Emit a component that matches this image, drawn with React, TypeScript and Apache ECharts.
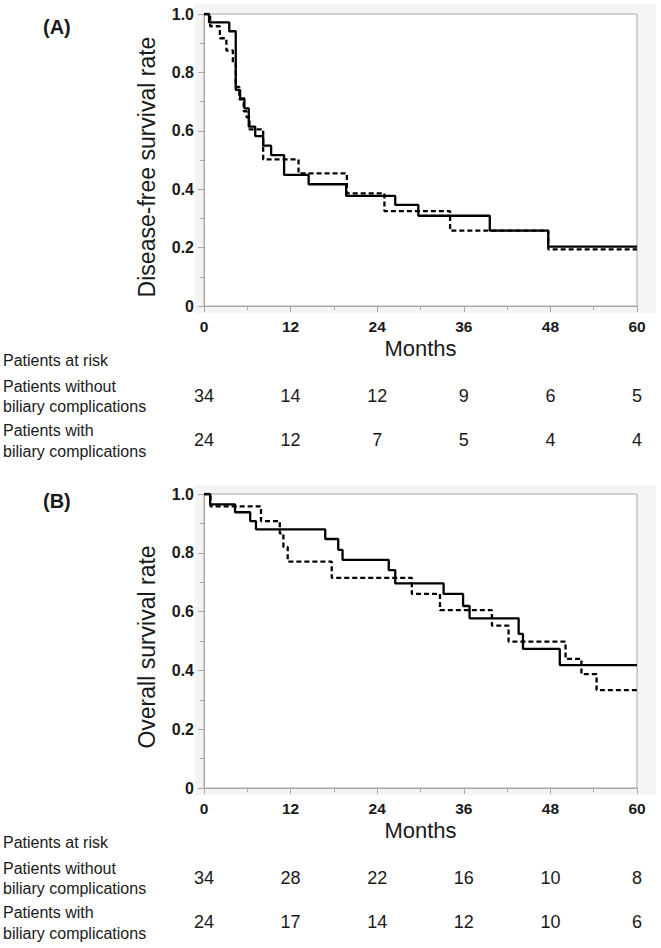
import React, { useEffect, useRef } from "react";
import * as echarts from "echarts";

// ---- Data ----
const monthTicks = [0, 12, 24, 36, 48, 60];

// Panel A: disease-free survival
const dfsWithoutT = [0, 0.7, 3.5, 4.4, 5.0, 5.6, 6.2, 7.1, 8.2, 9.3, 11.1, 14.5, 19.7, 26.5, 29.7, 39.6, 47.7, 60];
const dfsWithoutS = [1, 0.971, 0.941, 0.74, 0.711, 0.677, 0.614, 0.582, 0.549, 0.517, 0.449, 0.417, 0.377, 0.346, 0.309, 0.258, 0.203, 0.203];
const dfsWithT = [0, 0.85, 2.2, 3.1, 4.0, 4.4, 4.9, 5.5, 5.9, 6.3, 8.2, 13.1, 19.8, 25.0, 34.1, 47.7, 60];
const dfsWithS = [1, 0.958, 0.917, 0.875, 0.833, 0.75, 0.708, 0.667, 0.646, 0.605, 0.502, 0.454, 0.386, 0.325, 0.258, 0.194, 0.194];

// Panel B: overall survival
const osWithoutT = [0, 0.85, 4.3, 6.4, 7.2, 16.8, 18.6, 19.2, 25.6, 26.5, 33.2, 35.9, 36.8, 43.6, 44.2, 49.3, 60];
const osWithoutS = [1, 0.965, 0.938, 0.908, 0.88, 0.847, 0.81, 0.776, 0.741, 0.696, 0.66, 0.619, 0.577, 0.524, 0.473, 0.418, 0.418];
const osWithT = [0, 0.9, 7.9, 10.5, 11.0, 11.6, 17.7, 28.8, 32.7, 39.9, 42.2, 50.1, 52.3, 54.4, 60];
const osWithS = [1, 0.958, 0.908, 0.866, 0.82, 0.77, 0.715, 0.66, 0.605, 0.552, 0.498, 0.439, 0.387, 0.333, 0.333];

// Patients at risk
const riskAWithout = [34, 14, 12, 9, 6, 5];
const riskAWith = [24, 12, 7, 5, 4, 4];
const riskBWithout = [34, 28, 22, 16, 10, 8];
const riskBWith = [24, 17, 14, 12, 10, 6];

const FONT = "'Liberation Sans', Arial, Helvetica, sans-serif";
const AXIS_GREY = "#a8a8a8";
const TEXT = "#1a1a1a";

const zip = (t: number[], s: number[]) => t.map((v, i) => [v, s[i]]);

export default function App() {
  const ref = useRef<HTMLDivElement>(null);

  useEffect(() => {
    if (!ref.current) return;
    const chart = echarts.init(ref.current, undefined, { renderer: "svg" });

    const grids = [
      { left: 204, top: 14, width: 433, height: 292 },
      { left: 204, top: 494, width: 433, height: 294 },
    ].map((g) => ({
      ...g,
      show: true,
      backgroundColor: "#ffffff",
      borderColor: AXIS_GREY,
      borderWidth: 1,
    }));

    const mainX = (gi: number) => ({
      type: "value",
      gridIndex: gi,
      min: 0,
      max: 60,
      interval: 12,
      name: "Months",
      nameLocation: "middle",
      nameGap: 31,
      nameTextStyle: { fontFamily: FONT, fontSize: 22, color: TEXT },
      axisLine: { show: true, onZero: false, lineStyle: { color: AXIS_GREY, width: 1 } },
      axisTick: { show: true, length: 6, lineStyle: { color: AXIS_GREY } },
      minorTick: { show: true, splitNumber: 2, length: 4, lineStyle: { color: AXIS_GREY } },
      splitLine: { show: false },
      axisLabel: {
        margin: 12,
        fontFamily: FONT,
        fontSize: 15.5,
        fontWeight: "bold",
        color: TEXT,
        showMinLabel: true,
        showMaxLabel: true,
      },
    });

    const riskX = (gi: number, counts: number[], offset: number) => ({
      type: "value",
      gridIndex: gi,
      position: "bottom",
      offset,
      min: 0,
      max: 60,
      interval: 12,
      axisLine: { show: false },
      axisTick: { show: false },
      splitLine: { show: false },
      axisLabel: {
        margin: 0,
        fontFamily: FONT,
        fontSize: 18,
        color: TEXT,
        showMinLabel: true,
        showMaxLabel: true,
        hideOverlap: false,
        formatter: (v: number) => {
          const i = monthTicks.indexOf(Math.round(v));
          return i >= 0 ? String(counts[i]) : "";
        },
      },
    });

    const mainY = (gi: number) => ({
      type: "value",
      gridIndex: gi,
      min: 0,
      max: 1,
      interval: 0.2,
      axisLine: { show: true, onZero: false, lineStyle: { color: AXIS_GREY, width: 1 } },
      axisTick: { show: true, length: 6, lineStyle: { color: AXIS_GREY } },
      minorTick: { show: true, splitNumber: 2, length: 4, lineStyle: { color: AXIS_GREY } },
      splitLine: { show: false },
      axisLabel: {
        margin: 10,
        fontFamily: FONT,
        fontSize: 16,
        fontWeight: "bold",
        color: TEXT,
        formatter: (v: number) => (v === 0 ? "0" : v.toFixed(1)),
      },
    });

    const stepSeries = (xi: number, yi: number, data: number[][], dashed: boolean) => ({
      type: "line",
      xAxisIndex: xi,
      yAxisIndex: yi,
      step: "end",
      symbol: "none",
      data,
      lineStyle: { color: "#000", width: 2.3, type: dashed ? [5, 3] : "solid" },
      z: dashed ? 3 : 4,
    });

    const leftText = (text: string, y: number, extra: any = {}) => ({
      type: "text",
      x: 3,
      y,
      style: {
        text,
        fontFamily: FONT,
        fontSize: 16,
        fill: TEXT,
        align: "left",
        verticalAlign: "middle",
        ...extra,
      },
    });

    const blockTexts = (base: number) => [
      leftText("Patients at risk", base + 54),
      leftText("Patients without", base + 80.7),
      leftText("biliary complications", base + 100.7),
      leftText("Patients with", base + 124),
      leftText("biliary complications", base + 145),
    ];

    chart.setOption({
      animation: false,
      backgroundColor: "#ffffff",
      grid: grids,
      xAxis: [
        mainX(0),
        riskX(0, riskAWithout, 81),
        riskX(0, riskAWith, 125),
        mainX(1),
        riskX(1, riskBWithout, 81),
        riskX(1, riskBWith, 125),
      ],
      yAxis: [mainY(0), mainY(1)],
      series: [
        stepSeries(0, 0, zip(dfsWithoutT, dfsWithoutS), false),
        stepSeries(0, 0, zip(dfsWithT, dfsWithS), true),
        stepSeries(3, 1, zip(osWithoutT, osWithoutS), false),
        stepSeries(3, 1, zip(osWithT, osWithS), true),
      ],
      graphic: [
        {
          type: "rect",
          z: -100,
          shape: { x: 195, y: 4, width: 461, height: 309 },
          style: { fill: "#f4f4f4" },
        },
        {
          type: "rect",
          z: -100,
          shape: { x: 195, y: 485, width: 461, height: 310 },
          style: { fill: "#f4f4f4" },
        },
        {
          type: "text",
          x: 43,
          y: 27,
          style: { text: "(A)", fontFamily: FONT, fontSize: 20, fontWeight: "bold", fill: TEXT, align: "left", verticalAlign: "middle" },
        },
        {
          type: "text",
          x: 43,
          y: 501,
          style: { text: "(B)", fontFamily: FONT, fontSize: 20, fontWeight: "bold", fill: TEXT, align: "left", verticalAlign: "middle" },
        },
        {
          type: "text",
          x: 147,
          y: 167,
          rotation: Math.PI / 2,
          style: { text: "Disease-free survival rate", fontFamily: FONT, fontSize: 23, fill: TEXT, align: "center", verticalAlign: "middle" },
        },
        {
          type: "text",
          x: 147,
          y: 647,
          rotation: Math.PI / 2,
          style: { text: "Overall survival rate", fontFamily: FONT, fontSize: 23, fill: TEXT, align: "center", verticalAlign: "middle" },
        },
        ...blockTexts(306),
        ...blockTexts(788),
      ],
    });

    return () => chart.dispose();
  }, []);

  return (
    <div
      ref={ref}
      style={{ position: "fixed", left: 0, top: 0, width: 661, height: 948, background: "#fff" }}
    />
  );
}
